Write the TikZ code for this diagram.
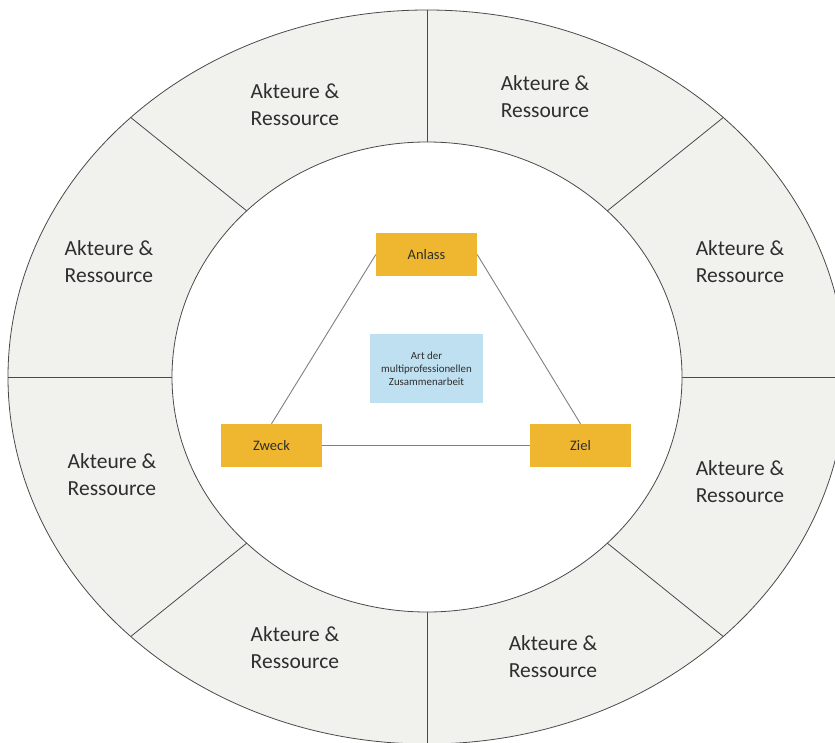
\documentclass[tikz,border=0pt]{standalone}
\usepackage{fontspec}
\setmainfont{Carlito}
\definecolor{ringfill}{HTML}{F1F2EE}
\definecolor{ringline}{HTML}{4A4A4A}
\definecolor{boxorange}{HTML}{EFB730}
\definecolor{boxblue}{HTML}{BFE0F1}
\definecolor{txt}{HTML}{2E2E2E}
\definecolor{conn}{HTML}{808080}
\tikzset{
  ringtext/.style={font=\fontsize{21.5}{27}\selectfont, text=txt, align=left, inner sep=0pt},
  orangebox/.style={fill=boxorange, minimum width=101pt, minimum height=43pt, inner sep=0pt, font=\fontsize{14.5}{17}\selectfont, text=txt},
  bluebox/.style={fill=boxblue, minimum width=113pt, minimum height=69pt, inner sep=0pt, align=center, font=\fontsize{10.9}{13}\selectfont, text=txt},
  connector/.style={draw=conn, line width=0.9pt}
}
\begin{document}
\begin{tikzpicture}[x=1pt,y=-1pt]
\useasboundingbox (0,0) rectangle (835,743);
\clip (0,0) rectangle (835,743);
\fill[white] (0,0) rectangle (835,743);
% outer ring
\draw[ringline, fill=ringfill, line width=0.8pt] (427,377) ellipse [x radius=419pt, y radius=367pt];
\foreach \t in {0,45,...,315}
  \draw[ringline, line width=0.8pt] ({427+255*cos(\t)},{377+235*sin(\t)}) -- ({427+419*cos(\t)},{377+367*sin(\t)});
\draw[ringline, fill=white, line width=0.8pt] (427,377) ellipse [x radius=255pt, y radius=235pt];
% ring labels
\node[ringtext] (r1) at (295,105) {Akteure \&\\Ressource};
\node[ringtext] (r2) at (545,97) {Akteure \&\\Ressource};
\node[ringtext] (r3) at (740,262) {Akteure \&\\Ressource};
\node[ringtext] (r4) at (740,482) {Akteure \&\\Ressource};
\node[ringtext] (r5) at (553,657) {Akteure \&\\Ressource};
\node[ringtext] (r6) at (295,648) {Akteure \&\\Ressource};
\node[ringtext] (r7) at (112,475) {Akteure \&\\Ressource};
\node[ringtext] (r8) at (109,262) {Akteure \&\\Ressource};
% center
\node[orangebox] (anlass) at (426.5,254.5) {Anlass};
\node[orangebox] (zweck) at (271.5,445.5) {Zweck};
\node[orangebox] (ziel) at (580.5,445.5) {Ziel};
\node[bluebox] (art) at (426.5,368.5) {Art der\\multiprofessionellen\\Zusammenarbeit};
\draw[connector] (zweck.north) -- (anlass.west);
\draw[connector] (anlass.east) -- (ziel.north);
\draw[connector] (zweck.east) -- (ziel.west);
\end{tikzpicture}
\end{document}
